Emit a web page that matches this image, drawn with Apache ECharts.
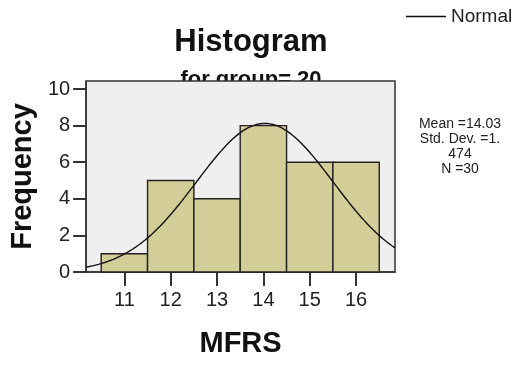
<!DOCTYPE html>
<html>
<head>
<meta charset="utf-8">
<script src="https://cdn.jsdelivr.net/npm/echarts@6/dist/echarts.min.js"></script>
<style>
  html, body { margin: 0; padding: 0; background: #fff; }
  #chart { width: 517px; height: 365px; }
</style>
</head>
<body>
<div id="chart"></div>
<script>
// MFRS histogram for group 20, with fitted normal curve
const binCenters = [11, 12, 13, 14, 15, 16];
const frequencies = [1, 5, 4, 8, 6, 6];
const binWidth = 1;

const xTicks = [11, 12, 13, 14, 15, 16];
const yTicks = [0, 2, 4, 6, 8, 10];

// Summary statistics shown beside the plot
const statMean = 14.03;
const statSd = 1.474;
const statN = 30;
const statLines = ['Mean =14.03', 'Std. Dev. =1.', '474', 'N =30'];

const xMin = 10.175, xMax = 16.84;
const yMin = 0, yMax = 10.44;

// Normal curve scaled to counts: N * binWidth * pdf(x)
const curve = [];
const steps = 200;
for (let i = 0; i <= steps; i++) {
  const x = xMin + (xMax - xMin) * i / steps;
  const z = (x - statMean) / statSd;
  const y = statN * binWidth * Math.exp(-0.5 * z * z) / (statSd * Math.sqrt(2 * Math.PI));
  curve.push([x, y]);
}

const font = '"Liberation Sans", Arial, sans-serif';
const chart = echarts.init(document.getElementById('chart'), null, { renderer: 'canvas' });

chart.setOption({
  animation: false,
  textStyle: { fontFamily: font },
  title: {
    text: 'Histogram',
    subtext: 'for group= 20',
    left: 246,
    top: 22,
    textAlign: 'center',
    itemGap: 11,
    z: -1,
    textStyle: { fontSize: 31, fontWeight: 'bold', color: '#111', fontFamily: font },
    subtextStyle: { fontSize: 22, fontWeight: 'bold', color: '#111', fontFamily: font }
  },
  legend: {
    data: [{ name: 'Normal', icon: 'rect' }],
    left: 401,
    top: 2,
    itemWidth: 40,
    itemHeight: 1.5,
    itemGap: 5,
    textStyle: { fontSize: 19, color: '#222', fontFamily: font }
  },
  grid: {
    left: 86, top: 81, right: 122, bottom: 93,
    show: true,
    backgroundColor: '#EFEFEF',
    borderColor: '#333',
    borderWidth: 1.5,
    z: 0
  },
  xAxis: {
    type: 'value',
    min: xMin, max: xMax,
    name: 'MFRS',
    nameLocation: 'middle',
    nameGap: 57,
    nameTextStyle: { fontSize: 29, fontWeight: 'bold', color: '#111', fontFamily: font },
    splitLine: { show: false },
    axisLine: { show: true, onZero: false, lineStyle: { color: '#333', width: 1.5 } },
    axisTick: { show: true, length: 14, customValues: xTicks, lineStyle: { color: '#333', width: 2 } },
    axisLabel: { customValues: xTicks, margin: 18, fontSize: 20, color: '#222', fontFamily: font }
  },
  yAxis: {
    type: 'value',
    min: yMin, max: yMax,
    name: 'Frequency',
    nameLocation: 'middle',
    nameGap: 46,
    nameTextStyle: { fontSize: 29, fontWeight: 'bold', color: '#111', fontFamily: font },
    splitLine: { show: false },
    axisLine: { show: true, lineStyle: { color: '#333', width: 1.5 } },
    axisTick: { show: true, length: 13, customValues: yTicks, lineStyle: { color: '#333', width: 2 } },
    axisLabel: { customValues: yTicks, margin: 16, fontSize: 20, color: '#222', fontFamily: font }
  },
  series: [
    {
      name: 'Bars',
      type: 'custom',
      data: binCenters.map((c, i) => [c, frequencies[i]]),
      renderItem: function (params, api) {
        const c = api.value(0);
        const f = api.value(1);
        const p0 = api.coord([c - binWidth / 2, f]);
        const p1 = api.coord([c + binWidth / 2, 0]);
        return {
          type: 'rect',
          shape: { x: p0[0], y: p0[1], width: p1[0] - p0[0], height: p1[1] - p0[1] },
          style: { fill: '#D3CE97', stroke: '#222', lineWidth: 1.4 }
        };
      },
      z: 2
    },
    {
      name: 'Normal',
      type: 'line',
      data: curve,
      symbol: 'none',
      smooth: false,
      clip: true,
      lineStyle: { color: '#111', width: 1.4 },
      itemStyle: { color: '#111' },
      z: 3
    }
  ],
  graphic: [
    {
      type: 'text',
      x: 460,
      y: 117,
      style: {
        text: statLines.join('\n'),
        font: '14px ' + font,
        lineHeight: 15,
        fill: '#222',
        align: 'center'
      }
    }
  ]
});
</script>
</body>
</html>
